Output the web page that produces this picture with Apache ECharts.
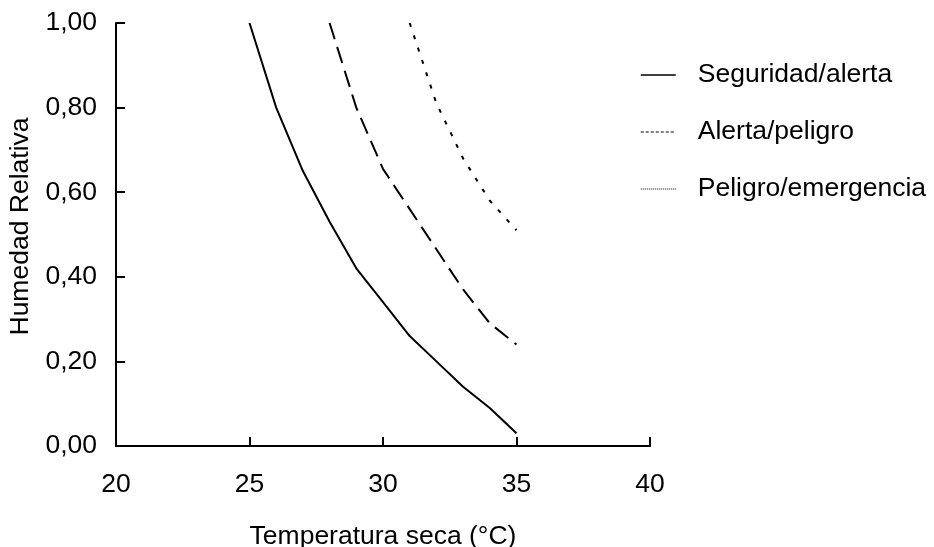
<!DOCTYPE html>
<html>
<head>
<meta charset="utf-8">
<script src="https://cdn.jsdelivr.net/npm/echarts@6/dist/echarts.min.js"></script>
<style>
html,body{margin:0;padding:0;background:#fff;}
#chart{width:934px;height:547px;}
</style>
</head>
<body>
<div id="chart"></div>
<script>
var seriesNames = ['Seguridad/alerta', 'Alerta/peligro', 'Peligro/emergencia'];
var tempSeg = [25, 26, 27, 28, 29, 30, 31, 32, 33, 34, 35];
var hrSeg   = [1.00, 0.80, 0.65, 0.53, 0.42, 0.34, 0.26, 0.20, 0.14, 0.09, 0.03];
var tempAle = [28, 29, 30, 31, 32, 33, 34, 35];
var hrAle   = [1.00, 0.80, 0.655, 0.56, 0.465, 0.37, 0.29, 0.24];
var tempPel = [31, 32, 33, 34, 35];
var hrPel   = [1.00, 0.81, 0.68, 0.58, 0.51];
var xTicks = [20, 25, 30, 35, 40];
var yTicks = [0, 0.2, 0.4, 0.6, 0.8, 1.0];

function pairs(xs, ys){ return xs.map(function(x,i){ return [x, ys[i]]; }); }

var FONT = 'Liberation Sans, Arial, sans-serif';
var FS = 26.5;
var noSym = {color: 'rgba(0,0,0,0)', borderColor: 'rgba(0,0,0,0)', borderWidth: 0, opacity: 0};
var chart = echarts.init(document.getElementById('chart'), null, {renderer:'canvas'});
chart.setOption({
  animation: false,
  backgroundColor: '#ffffff',
  grid: {left: 116, right: 284, top: 23, bottom: 101, containLabel: false, outerBoundsMode: 'none'},
  legend: {
    orient: 'vertical',
    left: 640,
    top: 60,
    padding: 0,
    itemWidth: 35,
    itemHeight: 14,
    itemGap: 27,
    textStyle: {fontFamily: FONT, fontSize: FS, color: '#000', lineHeight: 30, padding: [0,0,0,17]},
    data: [
      {name: seriesNames[0], itemStyle: noSym, lineStyle: {color:'#000', width: 1.5, type: 'solid'}},
      {name: seriesNames[1], itemStyle: noSym, lineStyle: {color:'#000', width: 1.2, type: [3,2]}},
      {name: seriesNames[2], itemStyle: noSym, lineStyle: {color:'#000', width: 1.2, type: [1,1]}}
    ]
  },
  xAxis: {
    type: 'value', min: xTicks[0], max: xTicks[xTicks.length-1], interval: 5,
    name: 'Temperatura seca (°C)', nameLocation: 'middle', nameGap: 77,
    nameTextStyle: {fontFamily: FONT, fontSize: FS, color: '#000'},
    axisLine: {show: true, lineStyle: {color: '#000', width: 2}},
    axisTick: {show: true, inside: true, length: 9, lineStyle: {color:'#000', width: 2}},
    axisLabel: {fontFamily: FONT, fontSize: FS, color: '#000', margin: 25},
    splitLine: {show: false}
  },
  yAxis: {
    type: 'value', min: yTicks[0], max: yTicks[yTicks.length-1], interval: 0.2,
    name: 'Humedad Relativa', nameLocation: 'middle', nameGap: 80, nameRotate: 90,
    nameTextStyle: {fontFamily: FONT, fontSize: FS, color: '#000', padding: [0,0,0,16]},
    axisLine: {show: true, lineStyle: {color: '#000', width: 2}},
    axisTick: {show: true, inside: true, length: 9, lineStyle: {color:'#000', width: 2}},
    axisLabel: {fontFamily: FONT, fontSize: FS, color: '#000', margin: 19,
      formatter: function(v){ return v.toFixed(2).replace('.', ','); }},
    splitLine: {show: false}
  },
  series: [
    {name: seriesNames[0], type: 'line', symbol: 'none', data: pairs(tempSeg, hrSeg),
     lineStyle: {color: '#000', width: 2, type: 'solid'}, itemStyle: {color:'#000'}},
    {name: seriesNames[1], type: 'line', symbol: 'none', data: pairs(tempAle, hrAle),
     lineStyle: {color: '#000', width: 2, type: [17,8]}, itemStyle: {color:'#000'}},
    {name: seriesNames[2], type: 'line', symbol: 'none', data: pairs(tempPel, hrPel),
     lineStyle: {color: '#000', width: 2, type: [4,9]}, itemStyle: {color:'#000'}}
  ]
});
</script>
</body>
</html>
